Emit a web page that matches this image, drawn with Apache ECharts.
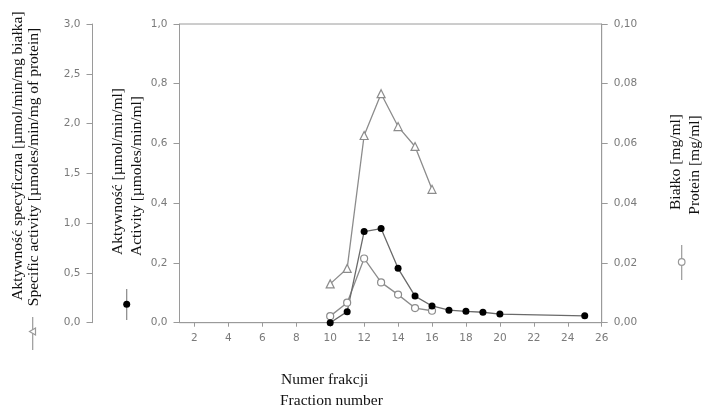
<!DOCTYPE html>
<html>
<head>
<meta charset="utf-8">
<script src="https://cdn.jsdelivr.net/npm/echarts@6/dist/echarts.min.js"></script>
<style>
html,body{margin:0;padding:0;background:#fff;}
#c{width:702px;height:415px;}
</style>
</head>
<body>
<div id="c"></div>
<script>
// ---- data ----
var xTicks = [2,4,6,8,10,12,14,16,18,20,22,24,26];
var specFractions = [10,11,12,13,14,15,16];
var specActivity = [0.39,0.545,1.88,2.30,1.97,1.77,1.34];
var actFractions = [10,11,12,13,14,15,16,17,18,19,20,25];
var activity = [0.0,0.037,0.305,0.315,0.182,0.089,0.056,0.042,0.038,0.035,0.029,0.023];
var protFractions = [10,11,12,13,14,15,16];
var protein = [0.0022,0.0067,0.0215,0.0135,0.0094,0.0049,0.0040];

function pairs(xs, ys){ return xs.map(function(x,i){ return [x, ys[i]]; }); }
function comma(d){ return function(v){ return v.toFixed(d).replace('.', ','); }; }

var axisCol = '#9a9a9a';
var labCol = '#7a7a7a';
var serif = '"Liberation Serif", "Times New Roman", serif';
var lab = {color: labCol, fontFamily: 'DejaVu Sans', fontSize: 10.5};

var chart = echarts.init(document.getElementById('c'), null, {renderer: 'canvas'});
chart.setOption({
  backgroundColor: '#ffffff',
  animation: false,
  grid: {left: 179.5, right: 100.3, top: 24, bottom: 92.3, show: true, borderColor: axisCol, borderWidth: 1, backgroundColor: 'transparent'},
  xAxis: {
    type: 'value', min: 1.12, max: 26,
    axisLine: {show: true, lineStyle: {color: axisCol, width: 1}},
    axisTick: {show: true, length: 4, customValues: xTicks, lineStyle: {color: axisCol}},
    axisLabel: Object.assign({margin: 10, customValues: xTicks, formatter: function(v){ return String(v); }}, lab),
    splitLine: {show: false}
  },
  yAxis: [
    {
      type: 'value', min: 0, max: 3, interval: 0.5, position: 'left', offset: 87,
      axisLine: {show: true, lineStyle: {color: axisCol, width: 1}},
      axisTick: {show: true, length: 6, lineStyle: {color: axisCol}},
      axisLabel: Object.assign({margin: 12, formatter: comma(1)}, lab),
      splitLine: {show: false}
    },
    {
      type: 'value', min: 0, max: 1, interval: 0.2, position: 'left', offset: 0,
      axisLine: {show: true, lineStyle: {color: axisCol, width: 1}},
      axisTick: {show: true, length: 6, lineStyle: {color: axisCol}},
      axisLabel: Object.assign({margin: 12, formatter: comma(1)}, lab),
      splitLine: {show: false}
    },
    {
      type: 'value', min: 0, max: 0.1, interval: 0.02, position: 'right', offset: 0,
      axisLine: {show: true, lineStyle: {color: axisCol, width: 1}},
      axisTick: {show: true, length: 6, lineStyle: {color: axisCol}},
      axisLabel: Object.assign({margin: 12, formatter: comma(2)}, lab),
      splitLine: {show: false}
    }
  ],
  series: [
    {
      name: 'Specific activity', type: 'line', yAxisIndex: 0,
      data: pairs(specFractions, specActivity),
      symbol: 'triangle', symbolSize: 8,
      lineStyle: {color: '#8c8c8c', width: 1.3},
      itemStyle: {color: '#ffffff', borderColor: '#8c8c8c', borderWidth: 1.2}
    },
    {
      name: 'Protein', type: 'line', yAxisIndex: 2,
      data: pairs(protFractions, protein),
      symbol: 'circle', symbolSize: 7,
      lineStyle: {color: '#8c8c8c', width: 1.3},
      itemStyle: {color: '#ffffff', borderColor: '#8c8c8c', borderWidth: 1.2}
    },
    {
      name: 'Activity', type: 'line', yAxisIndex: 1,
      data: pairs(actFractions, activity),
      symbol: 'circle', symbolSize: 7,
      lineStyle: {color: '#6a6a6a', width: 1.3},
      itemStyle: {color: '#000000', borderColor: '#000000', borderWidth: 0}
    }
  ],
  graphic: [
    // left axis title (two lines)
    {type: 'text', x: 18, y: 156, rotation: Math.PI/2,
      style: {text: 'Aktywność specyficzna [µmol/min/mg białka]', font: '15.5px ' + serif, fill: '#111', align: 'center', verticalAlign: 'middle'}},
    {type: 'text', x: 33.5, y: 167, rotation: Math.PI/2,
      style: {text: 'Specific activity [µmoles/min/mg of protein]', font: '15.5px ' + serif, fill: '#111', align: 'center', verticalAlign: 'middle'}},
    // middle axis title
    {type: 'text', x: 118, y: 171.5, rotation: Math.PI/2,
      style: {text: 'Aktywność [µmol/min/ml]', font: '15.5px ' + serif, fill: '#111', align: 'center', verticalAlign: 'middle'}},
    {type: 'text', x: 137, y: 176, rotation: Math.PI/2,
      style: {text: 'Activity [µmoles/min/ml]', font: '15.5px ' + serif, fill: '#111', align: 'center', verticalAlign: 'middle'}},
    // right axis title
    {type: 'text', x: 676, y: 162, rotation: Math.PI/2,
      style: {text: 'Białko [mg/ml]', font: '15.5px ' + serif, fill: '#111', align: 'center', verticalAlign: 'middle'}},
    {type: 'text', x: 695, y: 165, rotation: Math.PI/2,
      style: {text: 'Protein [mg/ml]', font: '15.5px ' + serif, fill: '#111', align: 'center', verticalAlign: 'middle'}},
    // x titles
    {type: 'text', x: 281, y: 380, style: {text: 'Numer frakcji', font: '15.5px ' + serif, fill: '#111', align: 'left', verticalAlign: 'middle'}},
    {type: 'text', x: 280, y: 401, style: {text: 'Fraction number', font: '15.5px ' + serif, fill: '#111', align: 'left', verticalAlign: 'middle'}},
    // legend glyphs
    {type: 'line', shape: {x1: 32.7, y1: 317, x2: 32.7, y2: 350}, style: {stroke: '#999', lineWidth: 1.2}},
    {type: 'polygon', shape: {points: [[29.5,331.5],[35.5,328],[35.5,335]]}, style: {fill: '#fff', stroke: '#999', lineWidth: 1.2}},
    {type: 'line', shape: {x1: 126.7, y1: 289, x2: 126.7, y2: 320}, style: {stroke: '#888', lineWidth: 1.2}},
    {type: 'circle', shape: {cx: 126.7, cy: 304.3, r: 3.5}, style: {fill: '#000', stroke: '#000', lineWidth: 0}},
    {type: 'line', shape: {x1: 681.7, y1: 245, x2: 681.7, y2: 280}, style: {stroke: '#999', lineWidth: 1.2}},
    {type: 'circle', shape: {cx: 681.7, cy: 262, r: 3.3}, style: {fill: '#fff', stroke: '#999', lineWidth: 1.2}}
  ]
});
</script>
</body>
</html>
